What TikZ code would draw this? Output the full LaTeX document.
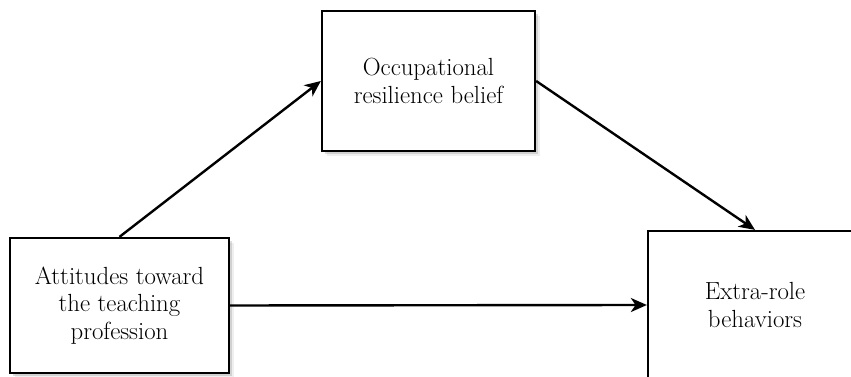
\documentclass[tikz,border=0pt]{standalone}
\usetikzlibrary{arrows.meta,shadows}
\begin{document}
\begin{tikzpicture}[x=0.75pt,y=-0.75pt,
  boxstyle/.style={draw=black,line width=1.7pt,fill=white,align=center,
    font=\fontsize{18.6}{20.6}\selectfont,inner sep=0pt,
    drop shadow={shadow xshift=4pt,shadow yshift=-4pt,opacity=0.10,fill=black!60},
    drop shadow={shadow xshift=2pt,shadow yshift=-2pt,opacity=0.22,fill=black!60}},
  arrowstyle/.style={line width=1.8pt,-{Stealth[length=12pt,width=10.5pt,inset=3.5pt]}}]
\useasboundingbox (0,0) rectangle (851,377);
\clip (0,0) rectangle (851,377);
\node[boxstyle,minimum width=213*0.75pt,minimum height=140*0.75pt] (b) at (428.5,81) {Occupational\\resilience belief};
\node[boxstyle,minimum width=219*0.75pt,minimum height=135*0.75pt] (a) at (119.5,305.5) {Attitudes toward\\the teaching\\profession};
\node[boxstyle,minimum width=214*0.75pt,minimum height=148*0.75pt] (c) at (755,305) {Extra-role\\behaviors};
\draw[arrowstyle] (a.north) -- (b.west);
\draw[arrowstyle] (b.east) -- (c.north);
\draw[arrowstyle] (a.east) -- (c.west);
\end{tikzpicture}
\end{document}
